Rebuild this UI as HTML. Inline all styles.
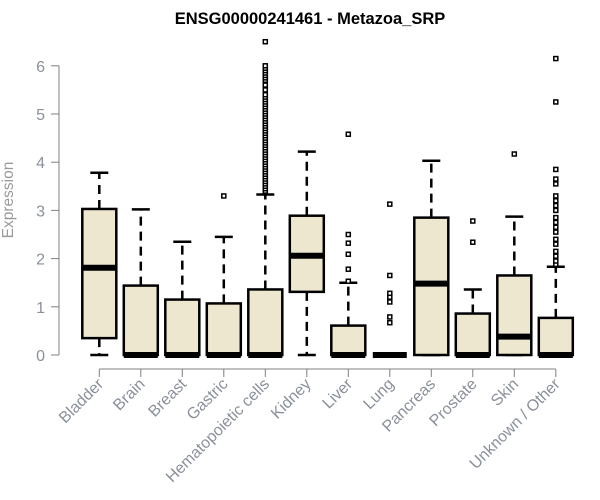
<!DOCTYPE html>
<html><head><meta charset="utf-8"><style>
body{margin:0;background:#fff}
svg{display:block;font-family:"Liberation Sans",sans-serif}
</style></head><body>
<svg id="chart" width="600" height="500">
<text x="310" y="24" text-anchor="middle" font-weight="bold" font-size="16.5">ENSG00000241461 - Metazoa_SRP</text>
<text transform="translate(13,200) rotate(-90)" text-anchor="middle" font-size="15.5" fill="#9a9a9a">Expression</text>
<g id="yaxis"></g>
<g id="xaxis"></g>
<g id="boxes"></g>
</svg>
<script>
const categories=["Bladder","Brain","Breast","Gastric","Hematopoietic cells","Kidney","Liver","Lung","Pancreas","Prostate","Skin","Unknown / Other"];
const q1=[0.35,0,0,0,0,1.31,0,0,0,0,0,0];
const medians=[1.81,0,0,0,0,2.06,0,0,1.48,0,0.38,0];
const q3=[3.03,1.44,1.15,1.07,1.36,2.89,0.61,0,2.85,0.86,1.65,0.77];
const whiskLo=[0,0,0,0,0,0,0,0,0,0,0,0];
const whiskHi=[3.78,3.02,2.35,2.45,3.33,4.22,1.5,0,4.03,1.36,2.87,1.83];
const outliers=[[],[],[],[3.3],
[3.4,3.45,3.5,3.55,3.6,3.65,3.7,3.75,3.8,3.85,3.9,3.95,4.0,4.05,4.1,4.15,4.2,4.25,4.3,4.35,4.4,4.45,4.5,4.55,4.6,4.65,4.7,4.75,4.8,4.85,4.9,4.95,5.0,5.05,5.1,5.15,5.2,5.25,5.3,5.35,5.4,5.5,5.6,5.7,5.75,5.8,5.85,5.9,5.95,6.0,6.5],
[],[1.53,1.78,2.09,2.32,2.5,4.58],[0.67,0.79,1.1,1.2,1.28,1.65,3.13],[],[2.34,2.78],[4.17],
[1.88,1.95,2.05,2.15,2.3,2.4,2.55,2.65,2.75,2.85,3.0,3.1,3.2,3.3,3.55,3.65,3.85,5.25,6.15]];
const yTicks=[0,1,2,3,4,5,6];
const NS="http://www.w3.org/2000/svg";
const y=v=>355-48.2*v;
const x=i=>99.3+41.5*i;
function mk(tag,attrs,parent){const e=document.createElementNS(NS,tag);for(const k in attrs)e.setAttribute(k,attrs[k]);parent.appendChild(e);return e;}
const ya=document.getElementById('yaxis'),xa=document.getElementById('xaxis'),bx=document.getElementById('boxes');
mk('line',{x1:59,x2:59,y1:y(0),y2:y(6),stroke:'#808080'},ya);
yTicks.forEach(t=>{
 const l=mk('line',{x1:51,x2:59,y1:y(t),y2:y(t),stroke:'#808080'},ya);
 
 
 const tx=mk('text',{x:45,y:y(t)+6,'text-anchor':'end','font-size':16,fill:'#8a909a'},ya);
 tx.textContent=t;
 
 
});
mk('line',{x1:x(0),x2:x(11),y1:369,y2:369,stroke:'#808080'},xa);
categories.forEach((c,i)=>{
 const cx=x(i);
 const t=mk('line',{x1:cx,x2:cx,y1:369,y2:377,stroke:'#808080'},xa);
 
 
 const tx=mk('text',{transform:`translate(${cx+5},385) rotate(-45)`,'text-anchor':'end','font-size':16,fill:'#8a909a'},xa);
 tx.textContent=c;
 
 
 const g=mk('g',{},bx);
 
 
 const hw=17;
 mk('line',{x1:cx,x2:cx,y1:y(q3[i]),y2:y(whiskHi[i]),stroke:'#000','stroke-width':2.5,'stroke-dasharray':'9,6'},g);
 mk('line',{x1:cx,x2:cx,y1:y(q1[i]),y2:y(whiskLo[i]),stroke:'#000','stroke-width':2.5,'stroke-dasharray':'9,6'},g);
 mk('line',{x1:cx-9,x2:cx+9,y1:y(whiskHi[i]),y2:y(whiskHi[i]),stroke:'#000','stroke-width':2.5},g);
 mk('line',{x1:cx-9,x2:cx+9,y1:y(whiskLo[i]),y2:y(whiskLo[i]),stroke:'#000','stroke-width':2.5},g);
 mk('rect',{x:cx-hw,y:y(q3[i]),width:2*hw,height:Math.max(0,y(q1[i])-y(q3[i])),fill:'#ede7cf',stroke:'#000','stroke-width':2.5},g);
 mk('line',{x1:cx-hw,x2:cx+hw,y1:y(medians[i]),y2:y(medians[i]),stroke:'#000','stroke-width':6},g);
 outliers[i].forEach(v=>{
  const o=mk('rect',{x:cx-2,y:y(v)-2,width:4,height:4,fill:'#fff',stroke:'#000','stroke-width':1.5},g);
  
  
 });
});
</script>
</body></html>
